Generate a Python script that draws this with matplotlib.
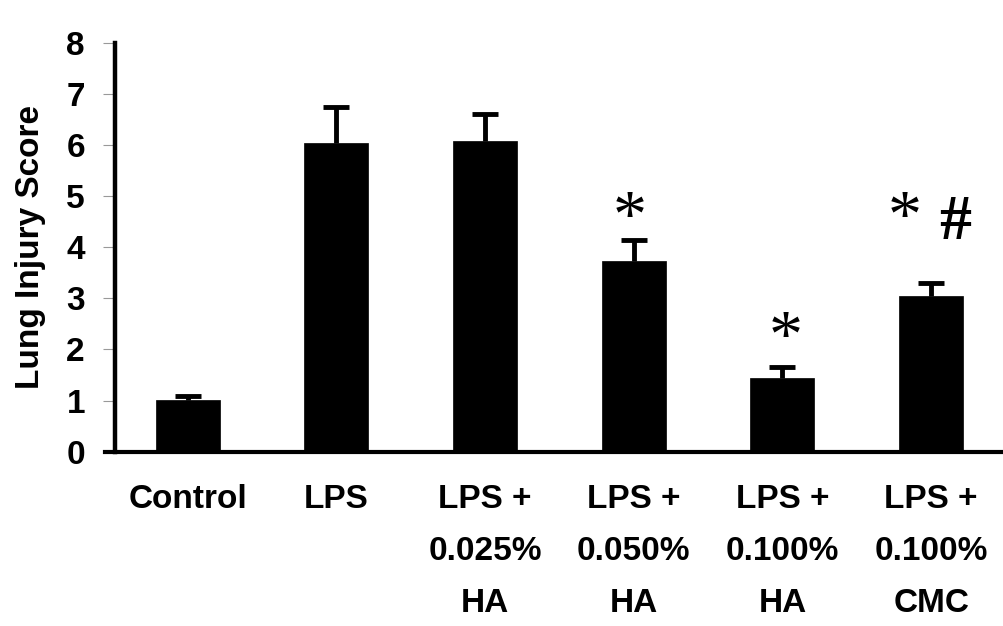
import matplotlib
matplotlib.use("Agg")
import matplotlib.pyplot as plt

categories = ["Control", "LPS", "LPS +\n0.025%\nHA", "LPS +\n0.050%\nHA",
              "LPS +\n0.100%\nHA", "LPS +\n0.100%\nCMC"]
means = [1.02, 6.03, 6.07, 3.73, 1.45, 3.05]
errors = [0.07, 0.71, 0.54, 0.41, 0.21, 0.25]
y_ticks = [0, 1, 2, 3, 4, 5, 6, 7, 8]
# significance marks: (text, x position, y position, font size, weight)
marks = [("*", 2.97, 4.55, 49, "normal"), ("*", 4.025, 2.20, 49, "normal"),
         ("*", 4.82, 4.55, 49, "normal"), ("#", 5.16, 4.46, 46, "bold")]

plt.rcParams['font.family'] = ['Liberation Sans', 'DejaVu Sans']

fig = plt.figure(figsize=(10.04, 6.26), dpi=100)
ax = fig.add_axes([105/1004, 1 - 451.7/626, 1 - 105/1004, (451.7 - 42.7)/626])

x = list(range(len(categories)))
tops = [m + e for m, e in zip(means, errors)]
ax.errorbar(x, means, yerr=[[0]*len(errors), errors], fmt="none", ecolor="black",
            elinewidth=3.5, capsize=0, zorder=1)
ax.plot(x, tops, linestyle="none", marker="_", markersize=19, markeredgewidth=3.5,
        color="black", zorder=1)
ax.bar(x, means, width=0.43, color="black", edgecolor="black", linewidth=0.5, zorder=2)

ax.set_xlim(-0.555, 5.49)
ax.set_ylim(0, 8)

for s in ["top", "right"]:
    ax.spines[s].set_visible(False)
ax.spines["left"].set_linewidth(3.2)
ax.spines["bottom"].set_linewidth(3.0)
ax.spines["left"].set_position(("axes", 10/899))
ax.spines["left"].set_bounds(0, 8)

ax.set_yticks(y_ticks)
ax.set_yticklabels([str(v) for v in y_ticks], fontsize=24, fontweight="bold")
ax.tick_params(axis="y", length=8.6, width=0.8, color="#999999", pad=13)

ax.set_xticks(x)
ax.set_xticklabels(categories, fontsize=24, fontweight="bold", linespacing=1.88, va="top")
ax.tick_params(axis="x", length=0, pad=23)

ax.set_ylabel("Lung Injury Score", fontsize=24, fontweight="bold", va="center")
ax.yaxis.set_label_coords((31 - 105)/899, 0.5)

for txt, mx, my, fs, fw in marks:
    ax.text(mx, my, txt, fontsize=fs, fontweight=fw, family="Liberation Serif",
            ha="center", va="center")

fig.savefig("out.png", dpi=100)
